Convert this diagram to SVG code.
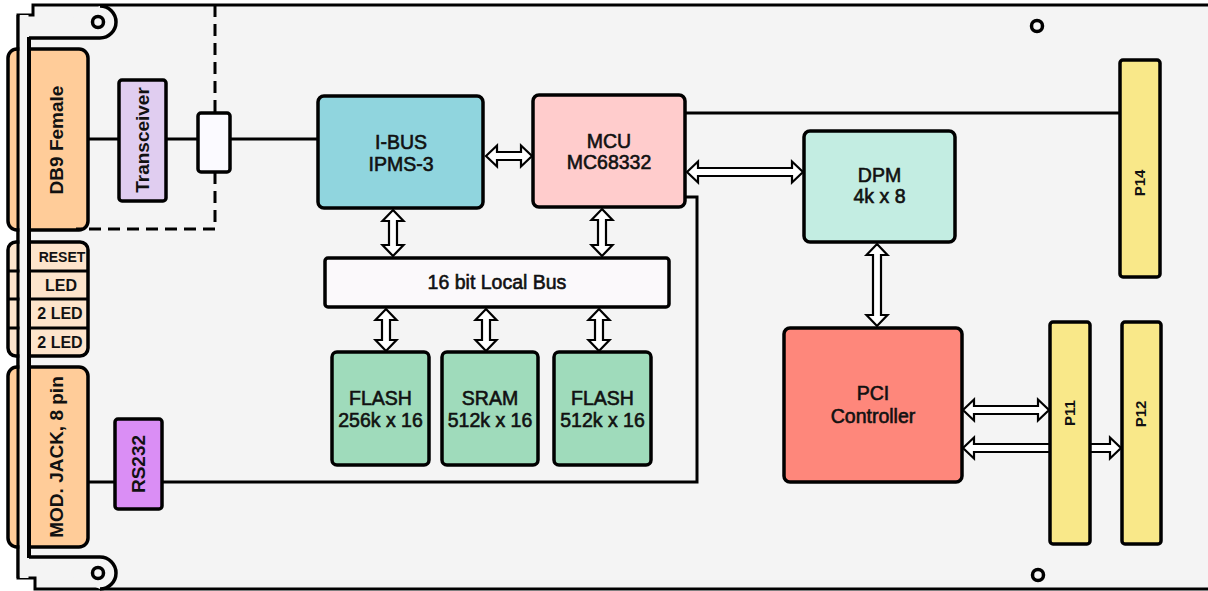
<svg xmlns="http://www.w3.org/2000/svg" width="1208" height="591" viewBox="0 0 1208 591">
<style>
.ln{fill:none;stroke:#000;stroke-width:3}
.bx{stroke:#000;stroke-width:3.5}
.arr{fill:#fff;stroke:#000;stroke-width:2.2;stroke-linejoin:miter}
text{font-family:"Liberation Sans",Arial,Helvetica,sans-serif;font-weight:bold;fill:#111}
.t{font-size:19.5px;font-weight:normal;stroke:#111;stroke-width:0.6;text-anchor:middle}
.tr{font-size:19px;text-anchor:middle}
.tp{font-size:15px;text-anchor:middle}
.tl{font-size:16px;text-anchor:middle}
.conn{fill:#ffcc99}
.mem{fill:#9fdbbb}
.pin{fill:#f9e889}
</style>
<rect width="1208" height="591" fill="#fff"/>
<g id="board">
<path d="M33,5 H1212 V589 H35 V578 H18 V15 H33 Z" fill="#f4f4f4" stroke="#000" stroke-width="3"/>
<circle cx="1037" cy="26" r="5.5" fill="none" stroke="#000" stroke-width="3.5"/>
<circle cx="1038" cy="575" r="5.5" fill="none" stroke="#000" stroke-width="3.5"/>
</g>
<g id="db9">
<rect x="8" y="49" width="80" height="181" rx="9" class="bx conn"/>
</g>
<g id="leds">
<rect x="8" y="242" width="80" height="114" rx="8" fill="#fde4cb" class="bx"/>
<path d="M8,271 H88 M8,299 H88 M8,328 H88" class="ln"/>
</g>
<g id="modjack">
<rect x="8" y="367" width="80" height="180" rx="9" class="bx conn"/>
</g>
<g id="frontpanel">
<rect x="19.5" y="15" width="9" height="563" fill="#f4f4f4"/>
<path d="M18,15 V578" class="ln"/>
<path d="M29,38 H100 A16,16 0 0 0 100,6" fill="#f4f4f4" stroke="#000" stroke-width="3.5"/>
<path d="M29,557 H100 A16,16 0 0 1 100,589" fill="#f4f4f4" stroke="#000" stroke-width="3.5"/>
<circle cx="98" cy="22" r="5.5" fill="none" stroke="#000" stroke-width="3.5"/>
<circle cx="98" cy="573" r="5.5" fill="none" stroke="#000" stroke-width="3.5"/>
<path d="M29,37 V558" fill="none" stroke="#000" stroke-width="4"/>
</g>
<g id="connectors">
<path d="M215,5 V113 M215,172 V229 H76" fill="none" stroke="#000" stroke-width="3" stroke-dasharray="12 7"/>
<path d="M88,139 H119 M166,139 H198 M230,139 H318" class="ln"/>
<path d="M88,482 H115 M162,482 H697 V197 H685" class="ln"/>
<path d="M685,113 H1120" class="ln"/>
<path class="arr" d="M486,156 L497,145.5 V152 H521 V145.5 L532,156 L521,166.5 V160 H497 V166.5 Z"/>
<path class="arr" d="M687,172 L698,161.5 V168 H792 V161.5 L803,172 L792,182.5 V176 H698 V182.5 Z"/>
<path class="arr" d="M963,410 L974,399.5 V406 H1038 V399.5 L1049,410 L1038,420.5 V414 H974 V420.5 Z"/>
<path class="arr" d="M963,448 L974,437.5 V444 H1110 V437.5 L1121,448 L1110,458.5 V452 H974 V458.5 Z"/>
<path class="arr" d="M393,210 L403.5,221 H397 V245 H403.5 L393,256 L382.5,245 H389 V221 H382.5 Z"/>
<path class="arr" d="M602,209 L612.5,220 H606 V245 H612.5 L602,256 L591.5,245 H598 V220 H591.5 Z"/>
<path class="arr" d="M877,244 L887.5,255 H881 V315 H887.5 L877,326 L866.5,315 H873 V255 H866.5 Z"/>
<path class="arr" d="M386,309 L396.5,320 H390 V340 H396.5 L386,351 L375.5,340 H382 V320 H375.5 Z"/>
<path class="arr" d="M486,309 L496.5,320 H490 V340 H496.5 L486,351 L475.5,340 H482 V320 H475.5 Z"/>
<path class="arr" d="M599,309 L609.5,320 H603 V340 H609.5 L599,351 L588.5,340 H595 V320 H588.5 Z"/>
</g>
<g id="db9-label"><text class="tr" transform="translate(63,140) rotate(-90)">DB9 Female</text></g>
<g id="led-labels">
<text x="62" y="262" style="font-size:14px;text-anchor:middle">RESET</text>
<text x="61" y="291" class="tl">LED</text>
<text x="60" y="319" class="tl">2 LED</text>
<text x="60" y="348" class="tl">2 LED</text>
</g>
<g id="modjack-label"><text class="tr" transform="translate(63,457) rotate(-90)">MOD. JACK, 8 pin</text></g>
<g id="transceiver">
<rect x="119" y="80" width="47" height="121" rx="3" fill="#e0cdf0" class="bx"/>
<text class="tr" transform="translate(149,140) rotate(-90)">Transceiver</text>
</g>
<g id="isolator">
<rect x="198" y="113" width="32" height="59" rx="3" fill="#fbfaff" class="bx"/>
</g>
<g id="rs232">
<rect x="115" y="419" width="47" height="90" rx="3" fill="#da8ef5" class="bx"/>
<text class="tr" transform="translate(145,464) rotate(-90)">RS232</text>
</g>
<g id="ibus">
<rect x="318" y="96" width="165" height="112" rx="6" fill="#90d5de" class="bx"/>
<text x="401" y="149" class="t">I-BUS</text>
<text x="401" y="171" class="t">IPMS-3</text>
</g>
<g id="mcu">
<rect x="533" y="95" width="152" height="112" rx="6" fill="#ffcccc" class="bx"/>
<text x="609" y="148" class="t">MCU</text>
<text x="609" y="169" class="t">MC68332</text>
</g>
<g id="localbus">
<rect x="325" y="258" width="344" height="49" rx="3" fill="#fbf9fb" class="bx"/>
<text x="497" y="289" class="t">16 bit Local Bus</text>
</g>
<g id="flash1">
<rect x="332" y="352" width="97" height="113" rx="5" class="bx mem"/>
<text x="380.5" y="405" class="t">FLASH</text>
<text x="380.5" y="427" class="t">256k x 16</text>
</g>
<g id="sram">
<rect x="442" y="352" width="96" height="113" rx="5" class="bx mem"/>
<text x="490" y="405" class="t">SRAM</text>
<text x="490" y="427" class="t">512k x 16</text>
</g>
<g id="flash2">
<rect x="554" y="352" width="97" height="113" rx="5" class="bx mem"/>
<text x="602.5" y="405" class="t">FLASH</text>
<text x="602.5" y="427" class="t">512k x 16</text>
</g>
<g id="dpm">
<rect x="804" y="131" width="151" height="111" rx="6" fill="#c3ede2" class="bx"/>
<text x="879.5" y="182" class="t">DPM</text>
<text x="879.5" y="203" class="t">4k x 8</text>
</g>
<g id="pci">
<rect x="784" y="328" width="178" height="154" rx="6" fill="#fe877b" class="bx"/>
<text x="873" y="400" class="t">PCI</text>
<text x="873" y="423" class="t">Controller</text>
</g>
<g id="p14">
<rect x="1120" y="60" width="40" height="217" rx="3" class="bx pin"/>
<text class="tp" transform="translate(1145,183) rotate(-90)">P14</text>
</g>
<g id="p11">
<rect x="1050" y="322" width="40" height="222" rx="3" class="bx pin"/>
<text class="tp" transform="translate(1075,413) rotate(-90)">P11</text>
</g>
<g id="p12">
<rect x="1122" y="322" width="39" height="222" rx="3" class="bx pin"/>
<text class="tp" transform="translate(1146,414) rotate(-90)">P12</text>
</g>
</svg>
